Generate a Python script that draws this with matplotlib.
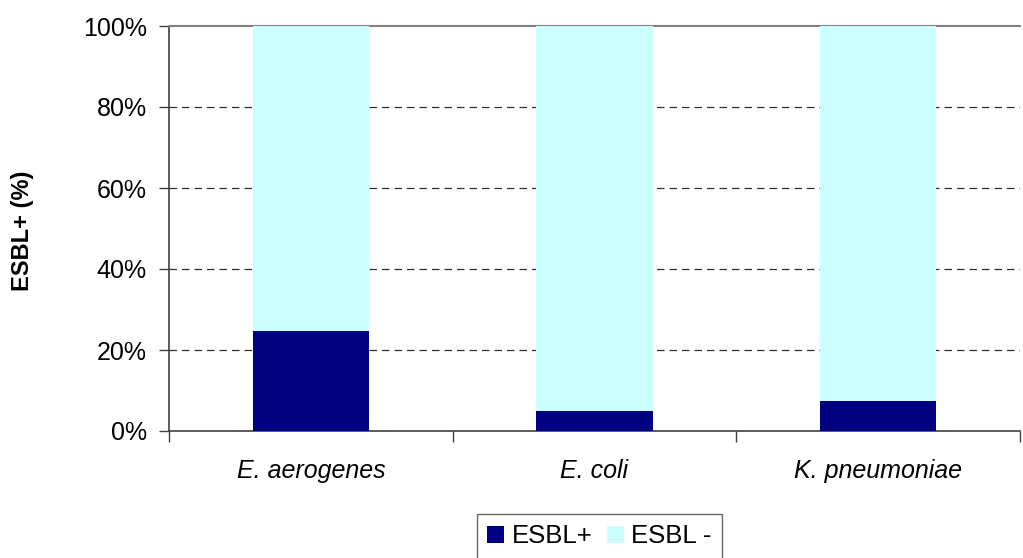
import matplotlib
matplotlib.use("Agg")
import matplotlib.pyplot as plt
from matplotlib.ticker import FixedLocator, FuncFormatter

categories = ["E. aerogenes", "E. coli", "K. pneumoniae"]
esbl_pos = [24.7, 4.9, 7.3]
esbl_neg = [75.3, 95.1, 92.7]
yticks = [0, 20, 40, 60, 80, 100]

plt.rcParams['font.family'] = ['Liberation Sans', 'DejaVu Sans']

fig = plt.figure(figsize=(10.23, 5.58), dpi=100)
ax = fig.add_axes([169/1023, 1-431/558, (1020-169)/1023, (431-26)/558])

x = list(range(len(categories)))
ax.bar(x, esbl_pos, width=0.41, color="#000080", label="ESBL+", zorder=3)
ax.bar(x, esbl_neg, width=0.41, bottom=esbl_pos, color="#CCFFFF", label="ESBL -", zorder=3)

ax.set_xlim(-0.5, 2.5)
ax.set_ylim(0, 100)
ax.set_yticks(yticks)
ax.yaxis.set_major_formatter(FuncFormatter(lambda v, p: f"{int(v)}%"))
ax.set_xticks(x)
ax.set_xticklabels(categories, fontstyle="italic", fontsize=18)
ax.xaxis.set_minor_locator(FixedLocator([-0.5, 0.5, 1.5, 2.5]))
ax.tick_params(axis="x", which="major", length=0, pad=20)
ax.tick_params(axis="x", which="minor", length=8, width=1, color="#404040")
ax.tick_params(axis="y", length=7, width=1, color="#404040", labelsize=18, pad=9)

for v in yticks[1:-1]:
    ax.axhline(v, color="#303030", linestyle=(0, (6, 4)), linewidth=0.9, zorder=1)

ax.spines["right"].set_visible(False)
ax.spines["top"].set_color("#808080")
ax.spines["top"].set_linewidth(1.5)
ax.spines["left"].set_color("#404040")
ax.spines["left"].set_linewidth(1.2)
ax.spines["bottom"].set_color("#404040")
ax.spines["bottom"].set_linewidth(1.2)

fig.text(22/1023, 1-231/558, "ESBL+ (%)", rotation=90, ha="center", va="center",
         fontsize=17, fontweight="bold")

leg = fig.legend(loc="upper left", bbox_to_anchor=(477/1023, 1-514/558), ncol=2,
                 fontsize=18.5, frameon=True, fancybox=False, handlelength=0.66,
                 handleheight=0.66, handletextpad=0.3, columnspacing=0.55,
                 borderpad=0.4, borderaxespad=0)
leg.get_frame().set_edgecolor("#404040")
leg.get_frame().set_linewidth(1.0)

fig.savefig("out.png", dpi=100)
